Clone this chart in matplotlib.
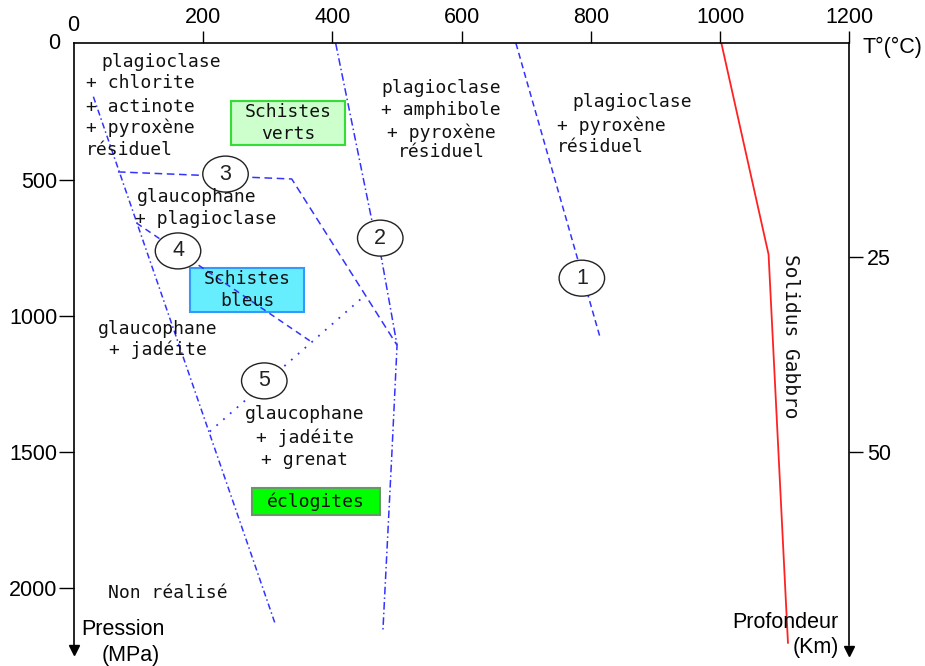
import matplotlib
matplotlib.use("Agg")
import matplotlib.pyplot as plt
from matplotlib.patches import Ellipse, Rectangle

# ---------------- data ----------------
x_ticks = [200, 400, 600, 800, 1000, 1200]
x_ticklabels = ["200", "400", "600", "800", "1000", "1200"]
y_ticks = [500, 1000, 1500, 2000]
y_ticklabels = ["500", "1000", "1500", "2000"]
depth_ticks_P = [785, 1500]
depth_ticklabels = ["25", "50"]

solidus_T = [1002, 1075, 1105]
solidus_P = [0, 775, 2200]

line1_T = [684, 815]
line1_P = [0, 1086]

line2_T = [405, 461, 476, 500, 492, 478]
line2_P = [0, 650, 790, 1108, 1504, 2160]

lineL_T = [30, 311]
lineL_P = [196, 2128]

line3_T = [68, 337, 500]
line3_P = [472, 498, 1108]

line4_T = [97, 367]
line4_P = [660, 1095]

line5_T = [210, 448]
line5_P = [1425, 930]

circle_labels = ["1", "2", "3", "4", "5"]
circle_T = [786, 474, 234.5, 161, 294.5]
circle_P = [862, 715, 480, 762, 1239]

# region labels: (text, T, P, ha)
label_texts = ["plagioclase", "+ chlorite", "+ actinote", "+ pyroxène", "résiduel",
               "plagioclase", "+ amphibole", "+ pyroxène", "résiduel",
               "plagioclase", "+ pyroxène", "résiduel",
               "glaucophane", "+ plagioclase",
               "glaucophane", "+ jadéite",
               "glaucophane", "+ jadéite", "+ grenat",
               "Non réalisé"]
label_T = [41.8, 18.6, 18.6, 18.6, 18.6,
           568, 568, 568, 568,
           772, 747.6, 747.6,
           97.5, 94.4,
           130, 130,
           357.5, 357.5, 357.5,
           145.5]
label_P = [68.6, 145.7, 233.8, 310.8, 391.6,
           164, 245, 329, 399,
           215, 303.5, 380.5,
           564, 645,
           1048, 1125,
           1360, 1448, 1529,
           2017]
label_ha = ["left"] * 5 + ["center"] * 4 + ["left"] * 3 + ["left"] * 2 + ["center"] * 5 + ["center"]

# facies boxes: name, T0, T1, P0, P1
box_names = ["Schistes\nverts", "Schistes\nbleus", "éclogites"]
box_T0 = [243, 179.5, 275.5]
box_T1 = [419.4, 356, 473.6]
box_P0 = [212, 825, 1632]
box_P1 = [373, 986, 1731]
box_face = ["#ccffcc", "#66eeff", "#00ff00"]
box_edge = ["#33dd33", "#3399ff", "#669966"]

# ---------------- figure ----------------
fig = plt.figure(figsize=(9.25, 6.66), dpi=100)
ax = fig.add_axes([0.08, 0.0308, 0.8382, 0.9042])
ax.set_xlim(0, 1200)
ax.set_ylim(2210, 0)

tickfont = dict(family="Liberation Sans", size=15.5)
monofont = dict(family="DejaVu Sans Mono", size=13)

ax.xaxis.tick_top()
ax.set_xticks(x_ticks)
ax.set_xticklabels(x_ticklabels, fontdict=tickfont)
ax.set_yticks(y_ticks)
ax.set_yticklabels(y_ticklabels, fontdict=tickfont)
ax.tick_params(axis="x", direction="out", length=8.5, width=1, pad=2.5, top=True, bottom=False)
ax.tick_params(axis="y", direction="out", length=11, width=1, pad=1)
ax.spines["bottom"].set_visible(False)
ax.spines["right"].set_visible(False)
for s in ["left", "top"]:
    ax.spines[s].set_linewidth(1.2)

ax2 = ax.twinx()
ax2.set_ylim(ax.get_ylim())
ax2.set_yticks(depth_ticks_P)
ax2.set_yticklabels(depth_ticklabels, fontdict=tickfont)
ax2.tick_params(axis="y", direction="out", length=10, width=1, pad=2.5)
for s in ["bottom", "top", "left"]:
    ax2.spines[s].set_visible(False)
ax2.spines["right"].set_linewidth(1.2)

# arrows at the bottom of both vertical axes
ax.plot([0], [2225], marker="v", ms=7, color="black", clip_on=False, zorder=6)
ax.plot([1200], [2230], marker="v", ms=7, color="black", clip_on=False, zorder=6)

# zero labels
ax.text(-0.8, -67, "0", ha="center", va="center", clip_on=False, **tickfont)
ax.text(-31, 0, "0", ha="center", va="center", clip_on=False, **tickfont)
ax.text(1220, 14, "T°(°C)", ha="left", va="center", clip_on=False, **tickfont)
ax.text(10.8, 2153, "Pression", ha="left", va="center", clip_on=False, **tickfont)
ax.text(43, 2245, "(MPa)", ha="left", va="center", clip_on=False, **tickfont)
ax.text(1184, 2127, "Profondeur", ha="right", va="center", clip_on=False, **tickfont)
ax.text(1184, 2219, "(Km)", ha="right", va="center", clip_on=False, **tickfont)

# facies boxes
for name, t0, t1, p0, p1, fc, ec in zip(box_names, box_T0, box_T1, box_P0, box_P1, box_face, box_edge):
    ax.add_patch(Rectangle((t0, p0), t1 - t0, p1 - p0, facecolor=fc, edgecolor=ec, lw=1.5, zorder=1))
    ax.text((t0 + t1) / 2, (p0 + p1) / 2, name, ha="center", va="center", linespacing=1.25,
            color="#111111", zorder=5, **monofont)

blue = "#3333ff"
ax.plot(line1_T, line1_P, color=blue, lw=1.1, linestyle=(0, (4, 2.5)), zorder=2)
ax.plot(line2_T, line2_P, color=blue, lw=1.1, linestyle=(0, (5, 2, 1, 2)), zorder=2)
ax.plot(lineL_T, lineL_P, color=blue, lw=1.1, linestyle=(0, (4, 2, 1, 2)), zorder=2)
ax.plot(line3_T, line3_P, color=blue, lw=1.1, linestyle=(0, (5, 3)), zorder=2)
ax.plot(line4_T, line4_P, color=blue, lw=1.1, linestyle=(0, (4, 3)), zorder=2)
ax.plot(line5_T, line5_P, color=blue, lw=1.3, linestyle=(0, (1, 4)), zorder=2)
ax.plot(solidus_T, solidus_P, color="#ff2222", lw=1.3, zorder=2)

ax.text(1109, 1074, "Solidus Gabbro", rotation=-90, ha="center", va="center",
        family="DejaVu Sans Mono", size=14, color="#111111", zorder=5)

# numbered ellipses
for lab, t, p in zip(circle_labels, circle_T, circle_P):
    ax.add_patch(Ellipse((t, p), 70.4, 132, facecolor="white", edgecolor="#222222", lw=1.0, zorder=3))
    ax.text(t, p, lab, ha="center", va="center", zorder=4, color="#222222", **tickfont)

# region labels
for txt, t, p, ha in zip(label_texts, label_T, label_P, label_ha):
    ax.text(t, p, txt, ha=ha, va="center", color="#111111", zorder=5, **monofont)

fig.savefig("out.png", dpi=100)
